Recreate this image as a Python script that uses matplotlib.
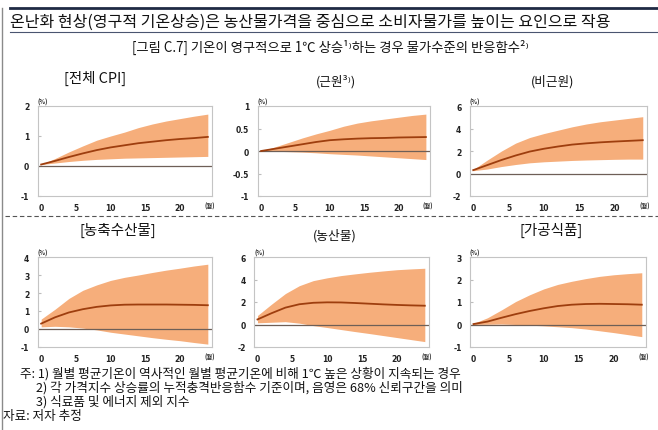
import numpy as np
import matplotlib.pyplot as plt
from matplotlib.lines import Line2D

plt.rcParams['font.family'] = ['Noto Sans CJK KR', 'DejaVu Sans']

W, H = 658, 431

# months at which the response functions were read
months = [0, 2, 4, 6, 8, 10, 12, 14, 16, 18, 20, 22, 24]

# 전체 CPI
cpi_med = [0.05, 0.17, 0.30, 0.42, 0.53, 0.62, 0.69, 0.76, 0.81, 0.86, 0.90, 0.93, 0.97]
cpi_up = [0.05, 0.25, 0.47, 0.67, 0.86, 1.00, 1.13, 1.28, 1.40, 1.50, 1.58, 1.66, 1.73]
cpi_lo = [0.05, 0.10, 0.15, 0.19, 0.22, 0.24, 0.26, 0.27, 0.28, 0.29, 0.30, 0.31, 0.32]

# 근원
core_med = [0.0, 0.05, 0.10, 0.15, 0.20, 0.24, 0.26, 0.275, 0.285, 0.29, 0.30, 0.305, 0.31]
core_up = [0.0, 0.09, 0.19, 0.29, 0.38, 0.46, 0.55, 0.62, 0.67, 0.71, 0.75, 0.79, 0.82]
core_lo = [0.0, -0.005, -0.015, -0.025, -0.04, -0.06, -0.075, -0.09, -0.11, -0.13, -0.15, -0.17, -0.19]

# 비근원
ncore_med = [0.3, 0.75, 1.2, 1.6, 1.95, 2.2, 2.4, 2.57, 2.68, 2.77, 2.84, 2.9, 2.96]
ncore_up = [0.35, 1.2, 2.0, 2.7, 3.2, 3.55, 3.85, 4.15, 4.4, 4.6, 4.75, 4.9, 5.05]
ncore_lo = [0.25, 0.4, 0.62, 0.8, 0.95, 1.04, 1.1, 1.16, 1.2, 1.23, 1.26, 1.28, 1.28]

# 농축수산물
alf_med = [0.3, 0.65, 0.92, 1.1, 1.23, 1.31, 1.35, 1.36, 1.36, 1.36, 1.35, 1.34, 1.32]
alf_up = [0.55, 1.1, 1.7, 2.15, 2.45, 2.7, 2.87, 3.0, 3.14, 3.27, 3.38, 3.5, 3.6]
alf_lo = [0.12, 0.15, 0.12, 0.05, -0.05, -0.18, -0.28, -0.38, -0.48, -0.57, -0.65, -0.75, -0.84]

# 농산물
agr_med = [0.45, 1.0, 1.5, 1.8, 1.93, 1.97, 1.96, 1.91, 1.85, 1.79, 1.74, 1.7, 1.67]
agr_up = [0.8, 1.8, 2.75, 3.45, 3.9, 4.15, 4.35, 4.5, 4.64, 4.76, 4.87, 4.94, 5.0]
agr_lo = [0.15, 0.2, 0.25, 0.12, -0.1, -0.27, -0.45, -0.63, -0.8, -0.98, -1.16, -1.34, -1.52]

# 가공식품
proc_med = [0.02, 0.13, 0.30, 0.46, 0.60, 0.72, 0.82, 0.88, 0.91, 0.92, 0.91, 0.90, 0.88]
proc_up = [0.05, 0.30, 0.65, 1.02, 1.32, 1.58, 1.78, 1.92, 2.04, 2.14, 2.21, 2.26, 2.30]
proc_lo = [0.0, 0.01, 0.02, 0.0, -0.03, -0.06, -0.10, -0.14, -0.20, -0.28, -0.36, -0.45, -0.54]

titles = ['[전체 CPI]', '(근원³⁾)', '(비근원)', '[농축수산물]', '(농산물)', '[가공식품]']
yticks = [[-1, 0, 1, 2], [-1, -0.5, 0, 0.5, 1], [-2, 0, 2, 4, 6],
          [-1, 0, 1, 2, 3, 4], [-2, 0, 2, 4, 6], [-1, 0, 1, 2, 3]]
yticklabels = [['-1', '0', '1', '2'], ['-1', '-0.5', '0', '0.5', '1'],
               ['-2', '0', '2', '4', '6'], ['-1', '0', '1', '2', '3', '4'],
               ['-2', '0', '2', '4', '6'], ['-1', '0', '1', '2', '3']]
series = [(cpi_med, cpi_up, cpi_lo), (core_med, core_up, core_lo),
          (ncore_med, ncore_up, ncore_lo), (alf_med, alf_up, alf_lo),
          (agr_med, agr_up, agr_lo), (proc_med, proc_up, proc_lo)]

# axes boxes in pixels: left, top, right, bottom
boxes = [(37.7, 107, 212, 197), (257.7, 107, 430, 197), (469.7, 107, 647, 197),
         (37.7, 258, 212, 348), (254, 258, 429, 348), (470, 258, 646, 348)]
# panel title positions (center x, y) and font sizes
title_pos = [(95, 78, 10.4), (336, 82, 9.1), (553, 82, 9.1),
             (118, 230, 10.5), (335, 236, 9.2), (551, 230, 10.5)]

fig = plt.figure(figsize=(W / 100, H / 100), dpi=100)

band_color = '#F6AE7B'
line_color = '#9E3E0E'

for i in range(6):
    l, t, r, b = boxes[i]
    ax = fig.add_axes([l / W, 1 - b / H, (r - l) / W, (b - t) / H])
    med, up, lo = series[i]
    ax.fill_between(months, lo, up, color=band_color, lw=0, zorder=1)
    ax.axhline(0, color='#6e5f57', lw=0.9, zorder=2)
    ax.plot(months, med, color=line_color, lw=1.3, zorder=3)
    ax.set_xlim(-0.5, 24.6)
    ax.set_ylim(yticks[i][0], yticks[i][-1])
    ax.set_xticks([0, 5, 10, 15, 20])
    ax.set_yticks(yticks[i])
    ax.set_yticklabels(yticklabels[i])
    for s in ax.spines.values():
        s.set_color('#c4c4c4')
        s.set_linewidth(0.8)
    ax.tick_params(axis='y', direction='in', length=2.5, color='#bdbdbd',
                   pad=6, labelsize=5.5, labelcolor='#222222')
    ax.tick_params(axis='x', length=0, pad=5, labelsize=5.5, labelcolor='#222222')
    for lab in ax.get_xticklabels() + ax.get_yticklabels():
        lab.set_fontweight('bold')
        lab.set_family(['DejaVu Sans'])
    ax.text(0.0, 1.01, '(%)', transform=ax.transAxes, fontsize=4.3,
            fontweight='bold', ha='left', va='bottom', color='#222222')
    ax.text(0.985, -0.1, '(월)', transform=ax.transAxes, fontsize=4.5,
            fontweight='bold', ha='center', va='center', color='#222222')
    tx, ty, fs = title_pos[i]
    fig.text(tx / W, 1 - ty / H, titles[i], fontsize=fs, ha='center', va='center',
             color='#111111')

# frame lines
fig.add_artist(Line2D([10 / W, 1], [1 - 9 / H, 1 - 9 / H], color='#1f2a44', lw=2.0))
fig.add_artist(Line2D([10 / W, 1], [1 - 33 / H, 1 - 33 / H], color='#4a5570', lw=0.8))
fig.add_artist(Line2D([2 / W, 2 / W], [0, 1 - 9 / H], color='#8a8a8a', lw=1.0))
fig.add_artist(Line2D([5 / W, 1], [1 - 217 / H, 1 - 217 / H], color='#555555',
                      lw=0.8, ls=(0, (4, 2.5))))

fig.text(10 / W, 1 - 22 / H,
         '온난화 현상(영구적 기온상승)은 농산물가격을 중심으로 소비자물가를 높이는 요인으로 작용',
         fontsize=11.5, ha='left', va='center', color='#111111')
fig.text(330 / W, 1 - 47 / H,
         '[그림 C.7] 기온이 영구적으로 1℃ 상승¹⁾하는 경우 물가수준의 반응함수²⁾',
         fontsize=9.6, ha='center', va='center', color='#111111')

notes = [(20, 374, '주: 1) 월별 평균기온이 역사적인 월별 평균기온에 비해 1℃ 높은 상황이 지속되는 경우'),
         (36, 388, '2) 각 가격지수 상승률의 누적충격반응함수 기준이며, 음영은 68% 신뢰구간을 의미'),
         (36, 402, '3) 식료품 및 에너지 제외 지수'),
         (3, 417, '자료: 저자 추정')]
for nx, ny, txt in notes:
    fig.text(nx / W, 1 - ny / H, txt, fontsize=9.1, ha='left', va='center', color='#111111')

fig.savefig('out.png', dpi=100)
